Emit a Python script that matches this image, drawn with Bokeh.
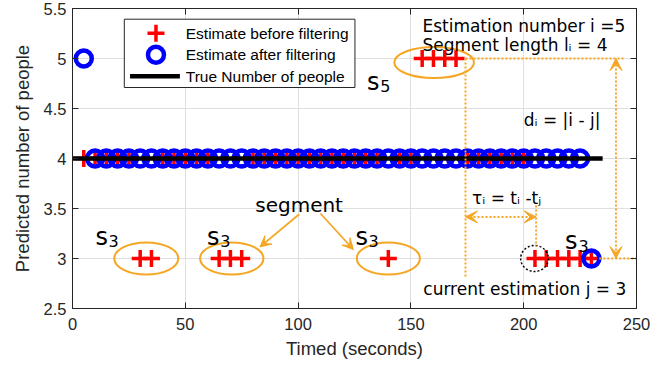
from bokeh.plotting import figure
from bokeh.models import Range1d, LinearAxis, FixedTicker, Arrow, VeeHead, Label
from bokeh.embed import file_html
from bokeh.resources import INLINE

# ---------------- data ----------------
t = [5, 10, 15, 20, 25, 30, 35, 40, 45, 50, 55, 60, 65, 70, 75, 80, 85, 90, 95, 100,
     105, 110, 115, 120, 125, 130, 135, 140, 145, 150, 155, 160, 165, 170, 175, 180,
     185, 190, 195, 200, 205, 210, 215, 220, 225, 230]
est_before = [4, 4, 4, 4, 4, 3, 3, 4, 4, 4, 4, 4, 3, 3, 3, 4, 4, 4, 4, 4,
              4, 4, 4, 4, 4, 4, 4, 3, 4, 4, 5, 5, 5, 5, 4, 4,
              4, 4, 4, 4, 3, 3, 3, 3, 3, 3]
est_after = [5, 4, 4, 4, 4, 4, 4, 4, 4, 4, 4, 4, 4, 4, 4, 4, 4, 4, 4, 4,
             4, 4, 4, 4, 4, 4, 4, 4, 4, 4, 4, 4, 4, 4, 4, 4,
             4, 4, 4, 4, 4, 4, 4, 4, 4, 3]
true_t = [0, 235]
true_n = [4, 4]

x_ticks = [0, 50, 100, 150, 200, 250]
x_tick_labels = ["0", "50", "100", "150", "200", "250"]
y_ticks = [2.5, 3, 3.5, 4, 4.5, 5, 5.5]
y_tick_labels = ["2.5", "3", "3.5", "4", "4.5", "5", "5.5"]

legend_labels = ["Estimate before filtering", "Estimate after filtering", "True Number of people"]

# segments (ellipses) around groups of raw estimates
seg_x = [32.7, 70.6, 140.0, 160.3]
seg_y = [3.0, 3.0, 3.0, 4.96]
seg_w = [28.4, 28.1, 28.0, 35.3]
seg_h = [0.32, 0.32, 0.32, 0.31]

# segment names s_k
s_x = [10.15, 59.6, 125.4, 218.3, 130.5]
s_y = [3.216, 3.216, 3.216, 3.173, 4.766]
s_sub = ["3", "3", "3", "3", "5"]
s_sub_x = [16.0, 65.5, 131.2, 224.3, 136.4]
s_sub_y = [3.176, 3.176, 3.176, 3.123, 4.723]

RED = "#ff0000"
BLUE = "#0000ff"
ORANGE = "#f5a623"
AX = "#262626"
GRID = "#dfdfdf"
SANS = "Liberation Sans"
DJV = "DejaVu Sans"

p = figure(width=672, height=369, x_range=Range1d(0, 250), y_range=Range1d(2.5, 5.5),
           output_backend="svg", toolbar_location=None,
           min_border_left=72, min_border_right=36, min_border_top=8, min_border_bottom=61)
p.background_fill_color = "white"
p.border_fill_color = "white"
p.outline_line_color = AX
p.outline_line_width = 1

xa = p.xaxis[0]
ya = p.yaxis[0]
xa.ticker = FixedTicker(ticks=x_ticks)
ya.ticker = FixedTicker(ticks=y_ticks)
xa.major_label_overrides = {v: s for v, s in zip(x_ticks, x_tick_labels)}
ya.major_label_overrides = {v: s for v, s in zip(y_ticks, y_tick_labels)}
xa.axis_label = "Timed (seconds)"
ya.axis_label = "Predicted number of people"
for ax in (xa, ya):
    ax.axis_line_color = AX
    ax.major_tick_line_color = AX
    ax.minor_tick_line_color = None
    ax.major_tick_in = 6
    ax.major_tick_out = 0
    ax.major_label_text_font = SANS
    ax.major_label_text_font_size = "16.5px"
    ax.major_label_text_color = AX
    ax.axis_label_text_font = SANS
    ax.axis_label_text_font_size = "18.5px"
    ax.axis_label_text_font_style = "normal"
    ax.axis_label_text_color = AX
xa.major_label_standoff = 9
xa.axis_label_standoff = 5
ya.major_label_standoff = 6
ya.axis_label_standoff = 8

for loc, tk in (("above", x_ticks), ("right", y_ticks)):
    ax2 = LinearAxis(ticker=FixedTicker(ticks=tk), major_label_text_font_size="0px",
                     major_label_standoff=0, major_label_text_color=None,
                     major_tick_in=6, major_tick_out=0, minor_tick_line_color=None,
                     axis_line_color=AX, major_tick_line_color=AX)
    p.add_layout(ax2, loc)

p.xgrid.ticker = FixedTicker(ticks=x_ticks)
p.ygrid.ticker = FixedTicker(ticks=y_ticks)
p.xgrid.grid_line_color = GRID
p.ygrid.grid_line_color = GRID

# ---------------- data marks ----------------
p.scatter(t, est_before, marker="cross", size=17, line_color=RED, line_width=3.5)
p.scatter(t, est_after, marker="circle", size=16, fill_color=None, line_color=BLUE, line_width=4.5)
p.line(true_t, true_n, line_color="black", line_width=4.5)

# ---------------- annotations ----------------
p.ellipse(x=seg_x, y=seg_y, width=seg_w, height=seg_h, fill_color=None,
          line_color=ORANGE, line_width=2)
# current estimation dotted circle
p.ellipse(x=[204.8], y=[3.0], width=[12.3], height=[0.26], fill_color=None,
          line_color="black", line_width=1.5, line_dash="2 2")

# dotted guide lines
p.segment(x0=[174.2, 174.2, 205.5, 233.5], y0=[5.0, 5.0, 3.53, 3.0],
          x1=[174.2, 245.0, 205.5, 250.0], y1=[2.80, 5.0, 3.12, 3.0],
          line_color=ORANGE, line_width=2, line_dash="2 2")


def vhead():
    return VeeHead(size=12, fill_color=ORANGE, line_color=ORANGE, line_width=1)


for xs, ys, xe, ye in ((174.2, 3.416, 205.5, 3.416), (240.9, 3.0, 240.9, 5.0)):
    p.add_layout(Arrow(start=vhead(), end=vhead(), x_start=xs, y_start=ys, x_end=xe, y_end=ye,
                       line_color=ORANGE, line_width=2, line_dash="2 2"))

for xs, ys, xe, ye in ((100.5, 3.443, 83.1, 3.116), (109.9, 3.45, 124.5, 3.09)):
    p.add_layout(Arrow(end=VeeHead(size=11, fill_color=ORANGE, line_color=ORANGE, line_width=1),
                       x_start=xs, y_start=ys, x_end=xe, y_end=ye,
                       line_color=ORANGE, line_width=1.8))

texts = [
    ("Estimation number i =5", 155.1, 5.323, "17px"),
    ("Segment length l\u1d62 = 4", 155.1, 5.133, "17px"),
    ("d\u1d62 = |i - j|", 200.0, 4.383, "17px"),
    ("\u03c4\u1d62 = t\u1d62 -t\u2c7c", 177.1, 3.603, "17px"),
    ("current estimation j = 3", 155.5, 2.700, "17px"),
    ("segment", 81.0, 3.533, "20px"),
]
for txt, x, y, fs in texts:
    p.add_layout(Label(x=x, y=y, text=txt, text_font=DJV, text_font_size=fs,
                       text_color="black", text_baseline="alphabetic", text_align="left"))

for sx, sy, sub, bx, by in zip(s_x, s_y, s_sub, s_sub_x, s_sub_y):
    p.add_layout(Label(x=sx, y=sy, text="s", text_font=DJV, text_font_size="24px",
                       text_color="black", text_baseline="alphabetic"))
    p.add_layout(Label(x=bx, y=by, text=sub, text_font=DJV, text_font_size="16px",
                       text_color="black", text_baseline="alphabetic"))

# ---------------- legend (drawn in data space) ----------------
p.quad(left=[22.96], right=[125.2], top=[5.393], bottom=[4.71], fill_color="white",
       line_color=AX, line_width=1)
leg_y = [5.253, 5.038, 4.823]
p.scatter([37.0], [leg_y[0]], marker="cross", size=17, line_color=RED, line_width=3.5)
p.scatter([37.0], [leg_y[1]], marker="circle", size=16, fill_color=None, line_color=BLUE, line_width=4.5)
p.line([25.5, 47.6], [leg_y[2], leg_y[2]], line_color="black", line_width=4.5)
for lab, ly in zip(legend_labels, leg_y):
    p.add_layout(Label(x=50.2, y=ly, text=lab, text_font=SANS, text_font_size="15.5px",
                       text_color="black", text_baseline="middle"))

open("out.html", "w").write(file_html(p, INLINE))
